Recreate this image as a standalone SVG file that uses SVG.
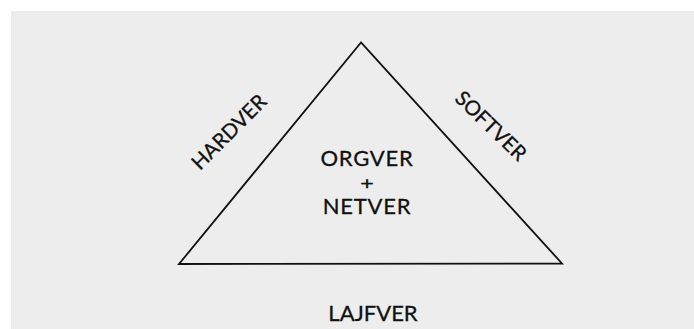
<svg xmlns="http://www.w3.org/2000/svg" width="694" height="329" viewBox="0 0 694 329">
<style>
.lbl{font-family:Lato,"Open Sans","Liberation Sans",sans-serif;font-size:22px;letter-spacing:0.8px;fill:#111;stroke:#111;stroke-width:0.3;text-anchor:middle}
.side{font-size:20.5px;letter-spacing:0}
.plus{font-size:18px;letter-spacing:0}
.base{letter-spacing:0}
.edge{fill:none;stroke:#111;stroke-width:1.8;stroke-linejoin:miter}
</style>
<rect width="694" height="329" fill="#ffffff"/>
<rect x="11" y="11" width="683" height="318" fill="#ededed"/>
<g id="connectors">
<polygon class="edge" points="361,42.5 179,264 562,263.5"/>
</g>
<g id="hardver"><text class="lbl side" transform="translate(234,137) rotate(-45)">HARDVER</text></g>
<g id="softver"><text class="lbl side" transform="translate(486,131) rotate(44)">SOFTVER</text></g>
<g id="center">
<text class="lbl" x="367" y="166">ORGVER</text>
<text class="lbl plus" transform="translate(367,189.5) scale(1.3,1)">+</text>
<text class="lbl" x="367" y="214">NETVER</text>
</g>
<g id="lajfver"><text class="lbl base" x="373" y="320.5">LAJFVER</text></g>
</svg>
